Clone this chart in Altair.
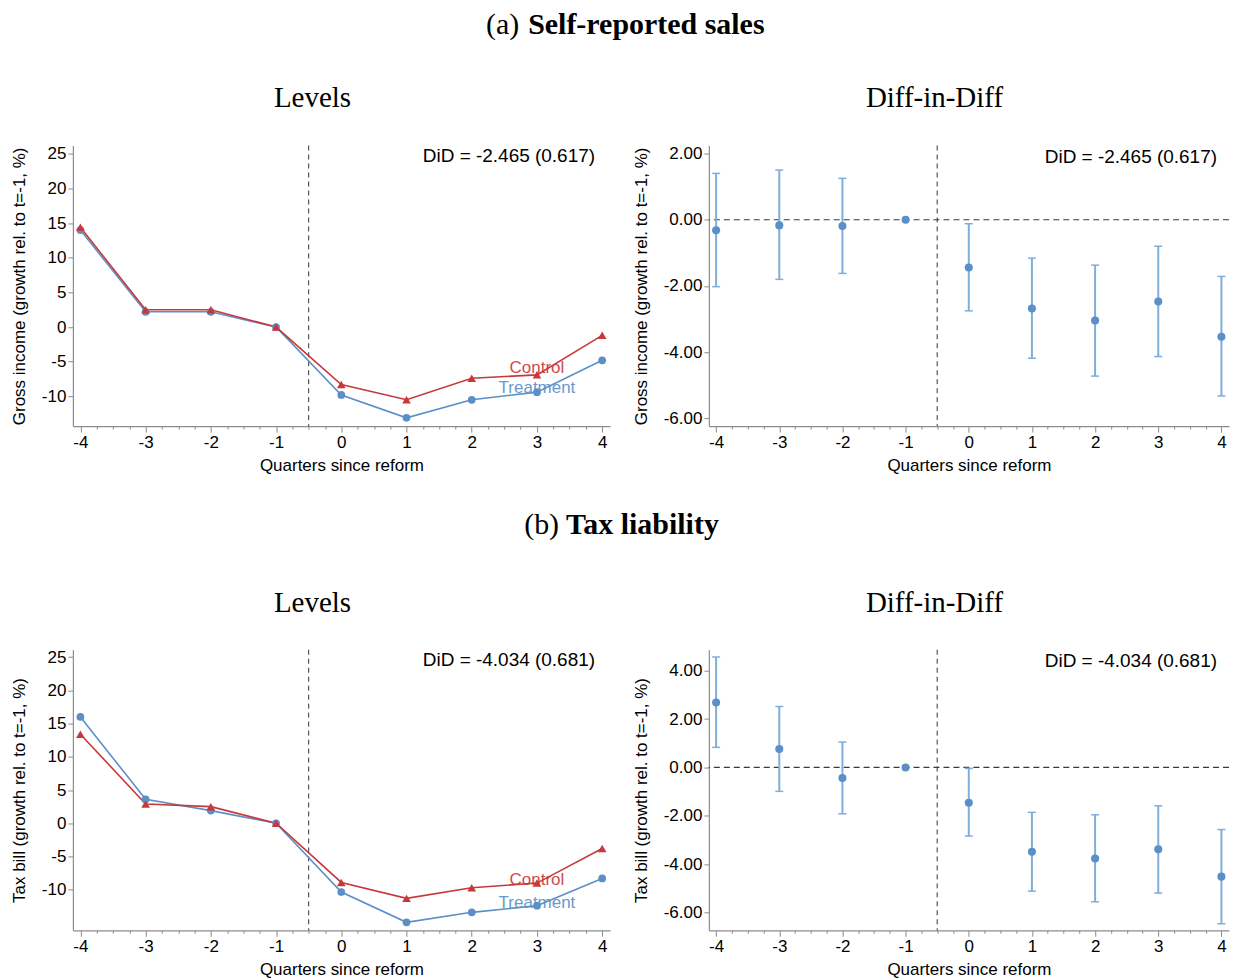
import altair as alt
import pandas as pd

# ---------------- data ----------------
quarters = [-4, -3, -2, -1, 0, 1, 2, 3, 4]

sales_treatment = [14.0, 2.2, 2.2, 0.0, -9.8, -13.1, -10.5, -9.4, -4.8]
sales_control = [14.4, 2.5, 2.5, 0.0, -8.3, -10.5, -7.4, -6.9, -1.2]
sales_did = [-0.32, -0.17, -0.19, 0.0, -1.44, -2.68, -3.04, -2.47, -3.53]
sales_lo = [-2.02, -1.80, -1.62, 0.0, -2.75, -4.18, -4.72, -4.13, -5.32]
sales_hi = [1.40, 1.50, 1.25, 0.0, -0.12, -1.16, -1.37, -0.80, -1.71]

tax_treatment = [16.0, 3.6, 1.9, 0.0, -10.35, -14.9, -13.4, -12.4, -8.3]
tax_control = [13.4, 2.9, 2.5, 0.0, -8.9, -11.3, -9.7, -9.0, -3.8]
tax_did = [2.69, 0.76, -0.44, 0.0, -1.46, -3.49, -3.77, -3.39, -4.52]
tax_lo = [0.83, -0.99, -1.92, 0.0, -2.84, -5.12, -5.56, -5.20, -6.47]
tax_hi = [4.57, 2.52, 1.05, 0.0, -0.04, -1.86, -1.96, -1.59, -2.57]

levels_ticks = [-10, -5, 0, 5, 10, 15, 20, 25]
sales_did_ticks = [-6, -4, -2, 0, 2]
tax_did_ticks = [-6, -4, -2, 0, 2, 4]

sales_did_label = "DiD = -2.465 (0.617)"
tax_did_label = "DiD = -4.034 (0.681)"

# ---------------- style ----------------
BLUE = "#5b8fc7"
BLUE_CI = "#7eaedb"
RED = "#c7383b"
GREY = "#8c8c8c"
SANS = "Liberation Sans"
SERIF = "Liberation Serif"

LW, RW, PH = 538, 521, 281

minor_vals = [-4 + 0.25 * i for i in range(33)]
x_scale = alt.Scale(domain=[-4.115, 4.12], nice=False, zero=False)
x_axis = alt.Axis(
    values=minor_vals,
    labelExpr="datum.value % 1 == 0 ? toString(datum.value) : ''",
    labelOverlap=False,
    labelFlush=False,
    tickSize={"condition": {"test": "datum.value % 1 != 0", "value": 3}, "value": 6},
    title="Quarters since reform",
    titlePadding=7,
)


def levels_panel(treat, ctrl, ytitle, ydom, did_text, ctrl_lab, treat_lab):
    y_scale = alt.Scale(domain=ydom, nice=False, zero=False)
    y_axis = alt.Axis(values=levels_ticks, labelExpr="toString(datum.value)",
                      title=ytitle, titlePadding=13)
    X = alt.X("q:Q", scale=x_scale, axis=x_axis)
    Y = alt.Y("v:Q", scale=y_scale, axis=y_axis)

    dt = pd.DataFrame({"q": quarters, "v": treat})
    dc = pd.DataFrame({"q": quarters, "v": ctrl})
    vline = alt.Chart(pd.DataFrame({"q": [-0.5]})).mark_rule(
        color="#333333", strokeDash=[5, 4], strokeWidth=1).encode(x=X)
    lt = alt.Chart(dt).mark_line(color=BLUE, strokeWidth=1.6).encode(x=X, y=Y)
    pt = alt.Chart(dt).mark_circle(color=BLUE, size=60, opacity=1).encode(x=X, y=Y)
    lc = alt.Chart(dc).mark_line(color=RED, strokeWidth=1.6).encode(x=X, y=Y)
    pc = alt.Chart(dc).mark_point(shape="triangle-up", filled=True, color=RED,
                                  size=75, opacity=1).encode(x=X, y=Y)
    labs = pd.DataFrame({"q": [3, 3], "v": [ctrl_lab, treat_lab],
                         "t": ["Control", "Treatment"], "g": ["Control", "Treatment"]})
    txt = alt.Chart(labs).mark_text(font=SANS, fontSize=17, baseline="middle",
                                    align="center", opacity=0.9).encode(
        x=X, y=Y, text="t:N",
        color=alt.Color("g:N", scale=alt.Scale(domain=["Control", "Treatment"],
                                               range=[RED, BLUE]), legend=None))
    did = alt.Chart(pd.DataFrame({"t": [did_text]})).mark_text(
        font=SANS, fontSize=19, align="right", baseline="middle", color="black").encode(
        x=alt.value(LW - 15), y=alt.value(10), text="t:N")
    return alt.layer(vline, lt, lc, pt, pc, txt, did).properties(width=LW, height=PH)


def did_panel(est, lo, hi, ytitle, ydom, ticks, did_text):
    y_scale = alt.Scale(domain=ydom, nice=False, zero=False)
    y_axis = alt.Axis(values=ticks,
                      labelExpr="(datum.value < 0 ? '-' : '') + format(abs(datum.value), '.2f')",
                      title=ytitle, titlePadding=13)
    X = alt.X("q:Q", scale=x_scale, axis=x_axis)
    Y = alt.Y("v:Q", scale=y_scale, axis=y_axis)

    d = pd.DataFrame({"q": quarters, "v": est, "lo": lo, "hi": hi})
    dci = d[d["q"] != -1]
    zero = alt.Chart(pd.DataFrame({"v": [0.0]})).mark_rule(
        color="#3a3a3a", strokeDash=[6, 4], strokeWidth=1.2).encode(y=Y)
    vline = alt.Chart(pd.DataFrame({"q": [-0.5]})).mark_rule(
        color="#333333", strokeDash=[5, 4], strokeWidth=1).encode(x=X)
    ci = alt.Chart(dci).mark_rule(color=BLUE_CI, strokeWidth=2).encode(
        x=X, y=alt.Y("lo:Q", scale=y_scale, axis=y_axis), y2="hi:Q")
    cap_lo = alt.Chart(dci).mark_tick(orient="horizontal", size=8, thickness=1.5,
                                      color=BLUE_CI, opacity=1).encode(
        x=X, y=alt.Y("lo:Q", scale=y_scale, axis=y_axis))
    cap_hi = alt.Chart(dci).mark_tick(orient="horizontal", size=8, thickness=1.5,
                                      color=BLUE_CI, opacity=1).encode(
        x=X, y=alt.Y("hi:Q", scale=y_scale, axis=y_axis))
    pts = alt.Chart(d).mark_circle(color=BLUE, size=65, opacity=1).encode(x=X, y=Y)
    did = alt.Chart(pd.DataFrame({"t": [did_text]})).mark_text(
        font=SANS, fontSize=19, align="right", baseline="middle", color="black").encode(
        x=alt.value(RW - 12), y=alt.value(11), text="t:N")
    return alt.layer(zero, vline, ci, cap_lo, cap_hi, pts, did).properties(width=RW, height=PH)


# header x positions are measured from the left edge of the left plot area
def header(letter, bold, split_l, split_r, y_sec, y_panel, height):
    def t(text, x, y, align, size, weight="normal"):
        return alt.Chart(pd.DataFrame({"t": [text]})).mark_text(
            font=SERIF, fontSize=size, fontWeight=weight, align=align,
            baseline="middle", color="black").encode(
            x=alt.value(x), y=alt.value(y), text="t:N")
    return alt.layer(
        t(letter, split_l, y_sec, "right", 30),
        t(bold, split_r, y_sec, "left", 30, "bold"),
        t("Levels", 240, y_panel, "center", 29),
        t("Diff-in-Diff", 863, y_panel, "center", 29),
    ).properties(width=1100, height=height)


head_a = header("(a)", "Self-reported sales", 447, 456, 16, 89, 135)
row_a = alt.hconcat(
    levels_panel(sales_treatment, sales_control,
                 "Gross income (growth rel. to t=-1, %)", [-14.3, 26.2],
                 sales_did_label, -5.95, -8.75),
    did_panel(sales_did, sales_lo, sales_hi,
              "Gross income (growth rel. to t=-1, %)", [-6.23, 2.24],
              sales_did_ticks, sales_did_label),
    spacing=22,
)
head_b = header("(b)", "Tax liability", 487, 494, 52, 130, 175)
row_b = alt.hconcat(
    levels_panel(tax_treatment, tax_control,
                 "Tax bill (growth rel. to t=-1, %)", [-16.1, 26.1],
                 tax_did_label, -8.5, -12.0),
    did_panel(tax_did, tax_lo, tax_hi,
              "Tax bill (growth rel. to t=-1, %)", [-6.74, 4.87],
              tax_did_ticks, tax_did_label),
    spacing=22,
)

chart = alt.vconcat(head_a, row_a, head_b, row_b, spacing=0).properties(
    padding={"left": 2, "top": 0, "right": 0, "bottom": 0}
).configure_view(stroke=None).configure_axis(
    grid=False,
    domainColor=GREY,
    domainWidth=1.2,
    tickColor=GREY,
    tickWidth=1,
    labelFont=SANS,
    labelFontSize=17,
    labelColor="black",
    labelPadding=2,
    titleFont=SANS,
    titleFontSize=17,
    titleFontWeight="normal",
    titleColor="black",
).configure_axisY(tickSize=5)

chart.save("out.html", embed_options={"renderer": "svg", "actions": False})
